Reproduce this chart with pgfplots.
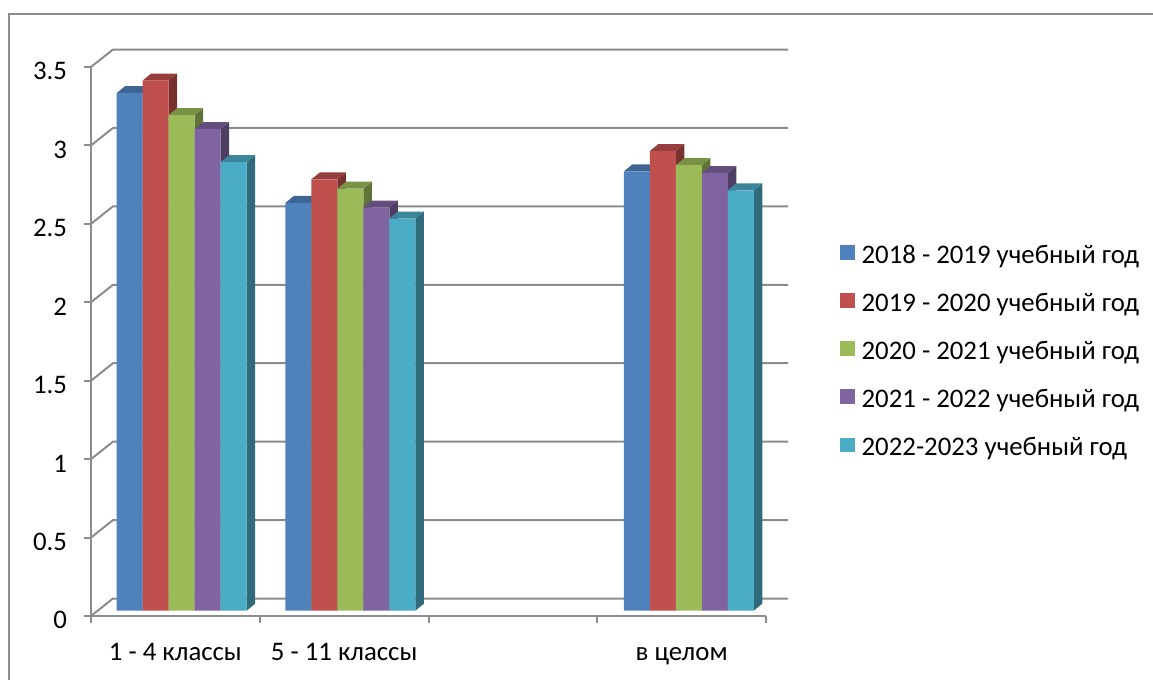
\documentclass[border=0pt]{standalone}
\usepackage{fontspec}
\setmainfont{Carlito}
\usepackage{pgfplots}
\usepackage{pgfplotstable}
\pgfplotsset{compat=1.18}

\definecolor{c0}{HTML}{4F81BD}
\definecolor{c1}{HTML}{C0504D}
\definecolor{c2}{HTML}{9BBB59}
\definecolor{c3}{HTML}{8064A2}
\definecolor{c4}{HTML}{4BACC6}
\definecolor{wallgray}{HTML}{8C8C8C}

% group centre x, then one column per school year
\pgfplotstableread{
x     s0   s1   s2   s3   s4
0.5   3.30 3.38 3.16 3.07 2.86
1.5   2.60 2.75 2.69 2.57 2.50
3.505 2.80 2.93 2.84 2.79 2.68
}\tabvals

% sizes below are reference pixels, 1px = 0.75pt
\pgfplotsset{
  ser/.style n args={2}{
    ybar, fill=#1, draw=none, bar width=19.5pt, bar shift=#2,
    shift={(4.725pt,3.975pt)},
    legend image code/.code={\fill[#1] (0pt,-5.6pt) rectangle (11.25pt,5.6pt);},
  },
}

% back wall line at height #1, with the slanted piece on the left wall
\newcommand{\wall}[1]{%
  \pgfmathsetmacro\yf{#1}%
  \pgfmathsetmacro\yw{#1+0.1115}%
  \edef\tmp{\noexpand\addplot[forget plot,wallgray,line width=1.5pt] coordinates {(0,\yf)(0.1304,\yw)(4.1304,\yw)};}\tmp
}

% side and top face of one bar: #1 series, #2 table row
\newcommand{\onebar}[2]{%
  \pgfplotstablegetelem{#2}{s#1}\of\tabvals\let\vv\pgfplotsretval
  \pgfplotstablegetelem{#2}{x}\of\tabvals\let\xc\pgfplotsretval
  \pgfmathsetmacro\xl{\xc+(6.3+(#1-2)*26-13)/168.75}%
  \pgfmathsetmacro\xr{\xl+26/168.75}%
  \pgfmathsetmacro\xld{\xl+0.0504}%
  \pgfmathsetmacro\xrd{\xr+0.0504}%
  \pgfmathsetmacro\yb{0.0338}%
  \pgfmathsetmacro\ybe{0.0338+0.0446}%
  \pgfmathsetmacro\yt{\vv+0.0338}%
  \pgfmathsetmacro\yte{\vv+0.0338+0.0446}%
  \edef\tmp{\noexpand\addplot[forget plot,draw=none,fill=c#1!62!black] coordinates {(\xr,\yb)(\xrd,\ybe)(\xrd,\yte)(\xr,\yt)} -- cycle;}\tmp
  \edef\tmp{\noexpand\addplot[forget plot,draw=none,fill=c#1!78!black] coordinates {(\xl,\yt)(\xld,\yte)(\xrd,\yte)(\xr,\yt)} -- cycle;}\tmp
}
\newcommand{\serfaces}[1]{\onebar{#1}{0}\onebar{#1}{1}\onebar{#1}{2}}

\begin{document}
\begin{tikzpicture}[x=0.75pt,y=0.75pt]
  \path[use as bounding box] (-91,-64) rectangle (1062,616);
  \draw[wallgray,line width=1.5pt] (-82,-64) -- (-82,602) -- (1062,602);
  \begin{axis}[
      at={(0,0)}, anchor=south west,
      scale only axis, width=506.25pt, height=411.75pt,
      clip=false,
      xmin=0, xmax=4, ymin=0, ymax=3.5,
      axis x line*=bottom, axis y line*=left,
      axis line style={-,wallgray,line width=1.5pt},
      tick style={wallgray,line width=1.5pt},
      major tick length=5.5pt, tick align=outside,
      xtick={0,1,2,3,4},
      xticklabels={1 - 4 классы,5 - 11 классы,,в целом},
      x tick label as interval,
      ytick={0,0.5,1,1.5,2,2.5,3,3.5},
      tick label style={font=\fontsize{20.1pt}{24pt}\selectfont,black},
      yticklabel style={xshift=-9pt,yshift=-3.2pt,/pgf/number format/fixed,/pgf/number format/assume math mode=true},
      xticklabel style={yshift=-10.5pt,text height=14pt,text depth=4pt},
      legend cell align=left,
      legend style={
        at={(rel axis cs:1.1096,0.4777)}, anchor=west,
        draw=none, fill=none, inner sep=0pt, outer sep=0pt,
        row sep=17.5pt, column sep=5pt,
        nodes={inner sep=0pt,text height=13pt,text depth=5pt,font=\fontsize{20.1pt}{24pt}\selectfont},
      },
    ]
    \wall{0}\wall{0.5}\wall{1}\wall{1.5}\wall{2}\wall{2.5}\wall{3}\wall{3.5}
    \serfaces{0}\serfaces{1}\serfaces{2}\serfaces{3}\serfaces{4}
    \addplot[ser={c0}{-39pt}] table[x=x,y=s0] {\tabvals};
    \addplot[ser={c1}{-19.5pt}] table[x=x,y=s1] {\tabvals};
    \addplot[ser={c2}{0pt}] table[x=x,y=s2] {\tabvals};
    \addplot[ser={c3}{19.5pt}] table[x=x,y=s3] {\tabvals};
    \addplot[ser={c4}{39pt}] table[x=x,y=s4] {\tabvals};
    \addlegendentry{2018 - 2019 учебный год}
    \addlegendentry{2019 - 2020 учебный год}
    \addlegendentry{2020 - 2021 учебный год}
    \addlegendentry{2021 - 2022 учебный год}
    \addlegendentry{2022-2023 учебный год}
  \end{axis}
\end{tikzpicture}
\end{document}
